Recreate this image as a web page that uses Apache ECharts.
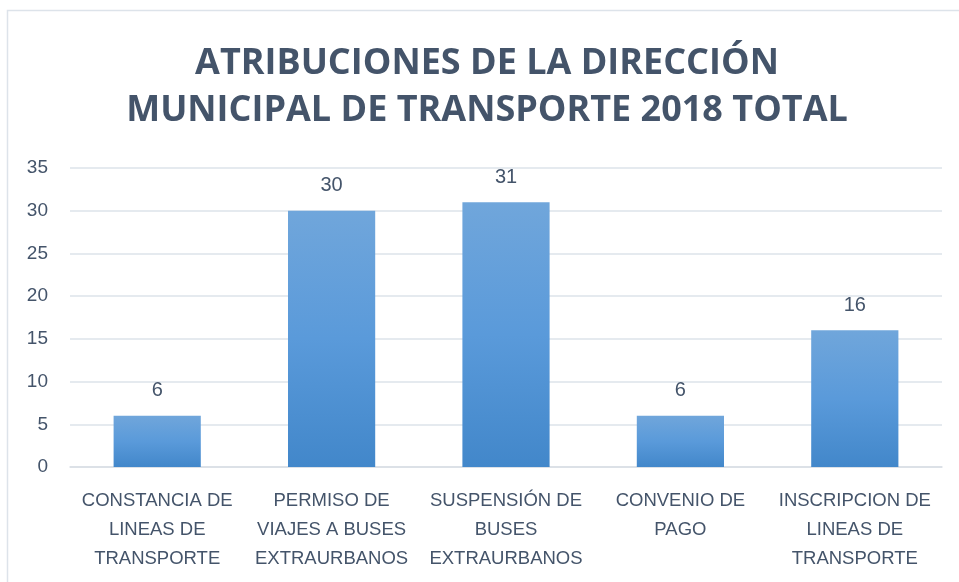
<!DOCTYPE html>
<html>
<head>
<meta charset="utf-8">
<script src="https://cdn.jsdelivr.net/npm/echarts@6/dist/echarts.min.js"></script>
<style>
  html, body { margin: 0; padding: 0; background: #fff; }
  #chart { width: 959px; height: 582px; }
</style>
</head>
<body>
<div id="chart"></div>
<script>
const titleText = 'ATRIBUCIONES DE LA DIRECCIÓN\nMUNICIPAL DE TRANSPORTE 2018 TOTAL'
const categories = [
  'CONSTANCIA DE\nLINEAS DE\nTRANSPORTE',
  'PERMISO DE\nVIAJES A BUSES\nEXTRAURBANOS',
  'SUSPENSIÓN DE\nBUSES\nEXTRAURBANOS',
  'CONVENIO DE\nPAGO',
  'INSCRIPCION DE\nLINEAS DE\nTRANSPORTE'
]
const values = [6, 30, 31, 6, 16]

const textColor = '#44546A'
const chart = echarts.init(document.getElementById('chart'))

chart.setOption({
  animation: false,
  backgroundColor: '#fff',
  textStyle: { fontFamily: 'Liberation Sans' },
  graphic: [
    {
      type: 'rect',
      shape: { x: 7.5, y: 10.5, width: 1000, height: 700 },
      style: { fill: 'none', stroke: '#DDE3EA', lineWidth: 1.5 },
      silent: true
    }
  ],
  title: {
    text: titleText,
    left: 482,
    textAlign: 'center',
    top: 35,
    textStyle: {
      fontFamily: 'Open Sans',
      fontSize: 36,
      fontWeight: 'bold',
      color: textColor,
      lineHeight: 47
    }
  },
  grid: { left: 70, right: 17, top: 168, bottom: 115, containLabel: false },
  xAxis: {
    type: 'category',
    data: categories,
    axisLine: { lineStyle: { color: '#D9DEE5', width: 1.5 } },
    axisTick: { show: false },
    axisLabel: {
      color: textColor,
      fontSize: 18.5,
      lineHeight: 29,
      margin: 19,
      interval: 0
    }
  },
  yAxis: {
    type: 'value',
    min: 0,
    max: 35,
    interval: 5,
    axisLine: { show: false },
    axisTick: { show: false },
    splitLine: { lineStyle: { color: '#DDE3EA', width: 1.5 } },
    axisLabel: { color: textColor, fontSize: 19, margin: 22 }
  },
  series: [
    {
      type: 'bar',
      data: values,
      barWidth: '50%',
      itemStyle: {
        color: new echarts.graphic.LinearGradient(0, 0, 0, 1, [
          { offset: 0, color: '#70A6DB' },
          { offset: 0.5, color: '#5A9ADA' },
          { offset: 1, color: '#4287CA' }
        ])
      },
      label: {
        show: true,
        position: 'top',
        distance: 15,
        color: textColor,
        fontSize: 20
      }
    }
  ]
})
</script>
</body>
</html>
